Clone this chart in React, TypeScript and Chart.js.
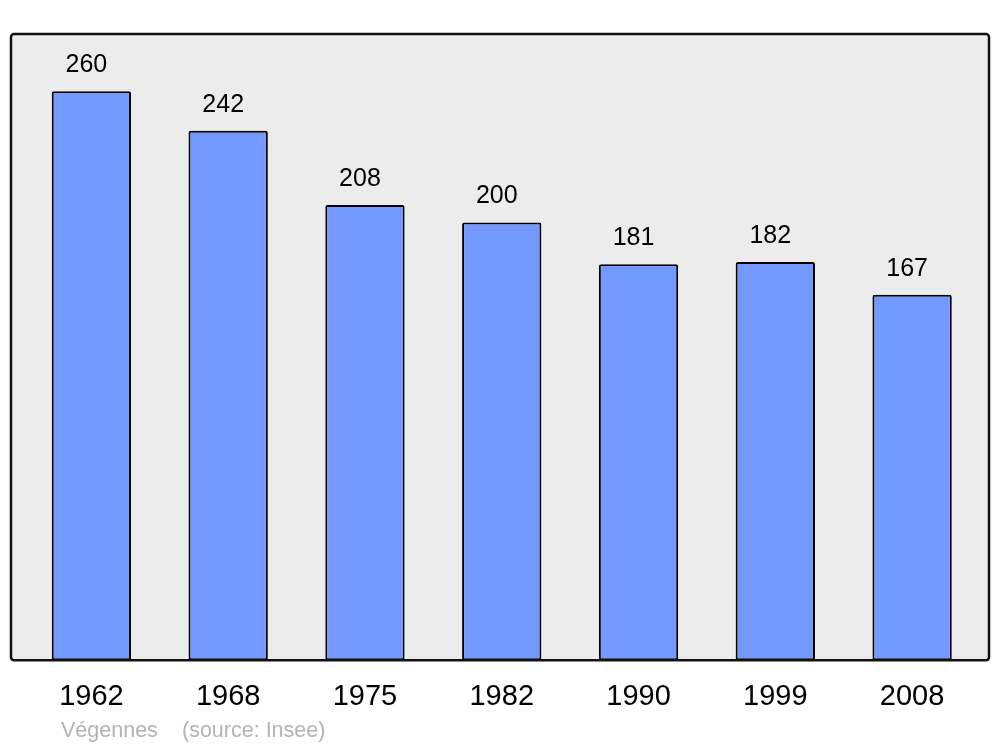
import React, { useEffect, useRef } from "react";
import { Chart, registerables } from "chart.js";

Chart.register(...registerables);

const years = ["1962", "1968", "1975", "1982", "1990", "1999", "2008"];
const population = [260, 242, 208, 200, 181, 182, 167];
const footerName = "Végennes";
const footerSource = "(source: Insee)";

const FONT = "'Liberation Sans', Arial, sans-serif";

const framePlugin = {
  id: "frame",
  beforeDatasetsDraw(chart: any) {
    const { ctx, chartArea } = chart;
    ctx.save();
    ctx.beginPath();
    ctx.roundRect(11, chartArea.top, 978, chartArea.bottom - chartArea.top, 3);
    ctx.fillStyle = "#ececec";
    ctx.fill();
    ctx.restore();
  },
  afterDatasetsDraw(chart: any) {
    const { ctx, chartArea } = chart;
    ctx.save();
    ctx.beginPath();
    ctx.roundRect(11, chartArea.top, 978, chartArea.bottom - chartArea.top, 3);
    ctx.lineWidth = 2.5;
    ctx.strokeStyle = "#111";
    ctx.stroke();
    // value labels
    const meta = chart.getDatasetMeta(0);
    ctx.font = `25px ${FONT}`;
    ctx.fillStyle = "#000";
    ctx.textAlign = "center";
    ctx.textBaseline = "middle";
    meta.data.forEach((bar: any, i: number) => {
      ctx.fillText(String(population[i]), bar.x - 5, bar.y - 26);
    });
    // footer
    ctx.font = `21.5px ${FONT}`;
    ctx.fillStyle = "#b3b3b3";
    ctx.textAlign = "left";
    ctx.fillText(footerName, 61, 731);
    ctx.fillText(footerSource, 182, 731);
    ctx.restore();
  },
};

export default function App() {
  const ref = useRef<HTMLCanvasElement>(null);
  useEffect(() => {
    if (!ref.current) return;
    const chart = new Chart(ref.current, {
      type: "bar",
      data: {
        labels: years,
        datasets: [
          {
            data: population,
            backgroundColor: "#7399ff",
            borderColor: "#000",
            borderWidth: 2,
            borderRadius: 2,
            borderSkipped: false,
            barPercentage: 0.58,
            categoryPercentage: 1,
          },
        ],
      },
      options: {
        animation: false,
        responsive: false,
        maintainAspectRatio: false,
        layout: { padding: { left: 23, right: 19.5, top: 34, bottom: 22 } },
        plugins: { legend: { display: false }, tooltip: { enabled: false } },
        scales: {
          x: {
            grid: { display: false },
            border: { display: false },
            ticks: { color: "#000", font: { family: FONT, size: 29 }, padding: 11 },
          },
          y: {
            display: false,
            min: 0,
            max: 286.2,
          },
        },
      },
      plugins: [framePlugin],
    });
    return () => chart.destroy();
  }, []);
  return (
    <div style={{ position: "fixed", left: 0, top: 0, width: 1000, height: 747, background: "#fff" }}>
      <canvas ref={ref} width={1000} height={747} />
    </div>
  );
}
